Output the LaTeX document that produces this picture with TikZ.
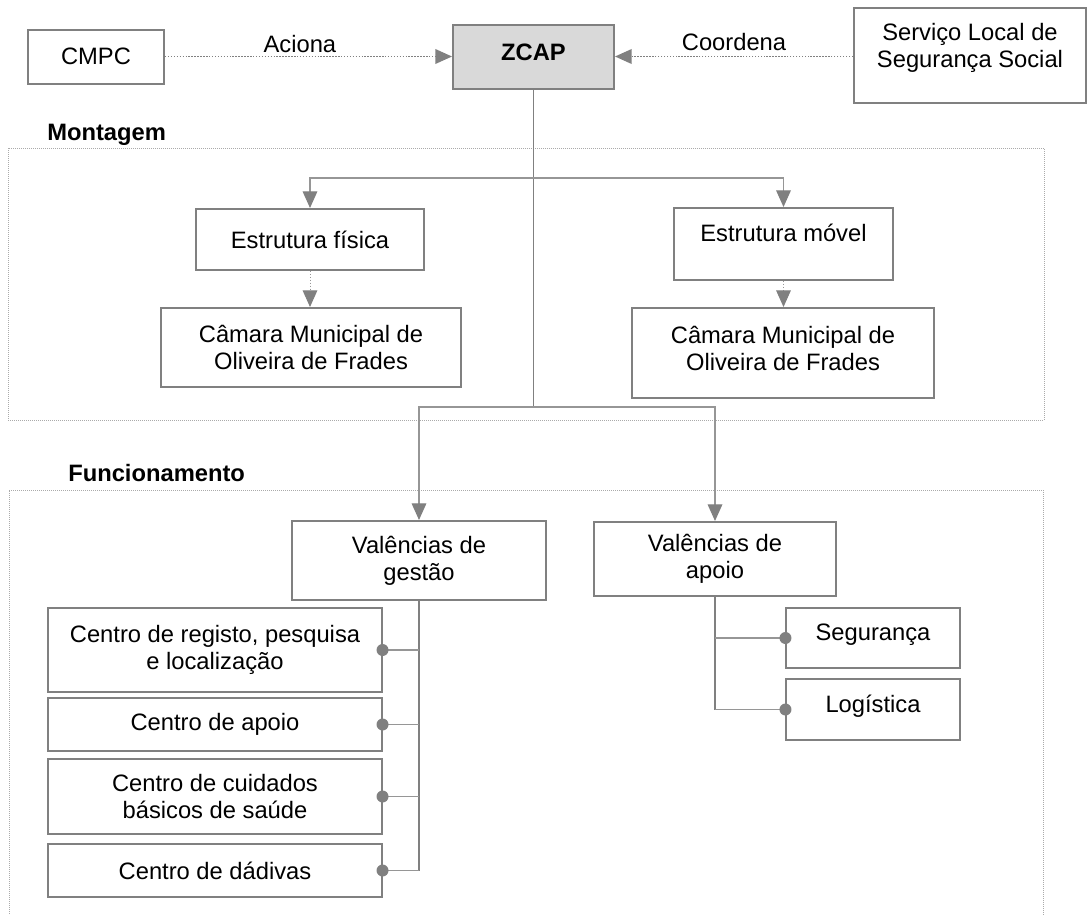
\documentclass[tikz,border=0pt]{standalone}
\usepackage{fontspec}
\setmainfont{Liberation Sans}
\usepackage{tikz}
\usetikzlibrary{arrows.meta}

\definecolor{linegray}{RGB}{128,128,128}
\definecolor{lightline}{RGB}{150,150,150}
\definecolor{framegray}{RGB}{170,170,170}
\definecolor{zcapgray}{RGB}{217,217,217}
\newcommand{\boxfont}{\fontsize{17.8}{20.3}\selectfont}

\begin{document}
\begin{tikzpicture}[x=0.75pt,y=-0.75pt,
	every node/.style={font=\boxfont},
	box/.style={draw=linegray,line width=1.5pt,align=center,inner sep=0pt},
	thinbox/.style={box,line width=0.8pt},
	head/.style={font=\boxfont\bfseries,anchor=west,inner sep=0pt},
	link/.style={draw=linegray,line width=1.2pt},
	branch/.style={draw=lightline,line width=0.9pt},
	tip/.style={-{Triangle[length=12.5pt,width=11pt,color=linegray]}},
	dotarrow/.style={draw=linegray,line width=1.1pt,dash pattern=on 1.1pt off 1.1pt,tip},
	frame/.style={draw=framegray,line width=0.75pt,dash pattern=on 0.75pt off 0.75pt}]
	\useasboundingbox (0,0) rectangle (1088,914);
	% top row
	\node[box,minimum width=102pt,minimum height=40.5pt] (cmpc) at (96,56.5) {CMPC};
	\node[box,fill=zcapgray,minimum width=120.75pt,minimum height=48pt,font=\boxfont\bfseries,text depth=6pt] (zcap) at (533.5,56.5) {ZCAP};
	\node[box,minimum width=174pt,minimum height=71.25pt,text depth=14.5pt] (ssocial) at (970,55.5) {Serviço Local de\\Segurança Social};
	\draw[dotarrow] (cmpc.east) -- (zcap.west) node[pos=0.47,above,inner sep=2pt,solid] (aciona) {Aciona};
	\draw[dotarrow] (ssocial.west |- zcap.east) -- (zcap.east) node[midway,above,inner sep=4pt,solid] (coordena) {Coordena};
	% Montagem
	\node[head] (montagem) at (47,135) {Montagem};
	\draw[frame] (8,148) rectangle (1044,420);
	\node[box,minimum width=171pt,minimum height=45.75pt] (fisica) at (310,239.5) {Estrutura física};
	\node[box,minimum width=164.25pt,minimum height=54pt,text depth=16.5pt] (movel) at (783.5,244) {Estrutura móvel};
	\node[box,minimum width=225pt,minimum height=59.25pt] (camara1) at (311,347.5) {Câmara Municipal de\\Oliveira de Frades};
	\node[box,minimum width=226.5pt,minimum height=67.5pt,text depth=6.75pt] (camara2) at (783,353) {Câmara Municipal de\\Oliveira de Frades};
	\coordinate (split1) at (533.5,178);
	\coordinate (split2) at (533.5,407);
	\draw[link] (zcap.south) -- (split2);
	\draw[branch,tip] (split1) -| (fisica.north);
	\draw[branch,tip] (split1) -| (movel.north);
	\draw[dotarrow,draw=lightline,line width=0.75pt] (fisica.south) -- (fisica.south |- camara1.north);
	\draw[dotarrow,draw=lightline,line width=0.75pt] (movel.south) -- (movel.south |- camara2.north);
	% Funcionamento
	\node[head] (funcionamento) at (68,473) {Funcionamento};
	\draw[frame] (9,920) |- (1043,490) -- (1043,920);
	\node[box,minimum width=190.5pt,minimum height=59.25pt] (gestao) at (419,560.5) {Valências de\\gestão};
	\node[box,minimum width=181.5pt,minimum height=55.5pt] (apoio) at (715,559) {Valências de\\apoio};
	\draw[branch,tip] (split2) -| (gestao.north);
	\draw[branch,tip] (split2) -| (apoio.north);
	\node[thinbox,minimum width=250.5pt,minimum height=63pt] (registo) at (215,650) {Centro de registo, pesquisa\\e localização};
	\node[thinbox,minimum width=250.5pt,minimum height=39.75pt] (capoio) at (215,724.5) {Centro de apoio};
	\node[thinbox,minimum width=250.5pt,minimum height=56.25pt] (cuidados) at (215,796.5) {Centro de cuidados\\básicos de saúde};
	\node[thinbox,minimum width=250.5pt,minimum height=39.75pt] (dadivas) at (215,870.5) {Centro de dádivas};
	\node[thinbox,minimum width=130.5pt,minimum height=45pt,text depth=9pt] (seguranca) at (873,638) {Segurança};
	\node[thinbox,minimum width=130.5pt,minimum height=45.75pt,text depth=9pt] (logistica) at (873,709.5) {Logística};
	\draw[link] (gestao.south) -- (gestao.south |- dadivas.east);
	\draw[branch] (gestao.south |- registo.east) -- (registo.east);
	\draw[branch] (gestao.south |- capoio.east) -- (capoio.east);
	\draw[branch] (gestao.south |- cuidados.east) -- (cuidados.east);
	\draw[branch] (gestao.south |- dadivas.east) -- (dadivas.east);
	\draw[link] (apoio.south) -- (apoio.south |- logistica.west);
	\draw[branch] (apoio.south |- seguranca.west) -- (seguranca.west);
	\draw[branch] (apoio.south |- logistica.west) -- (logistica.west);
	\fill[linegray] (registo.east) circle[radius=4.5pt];
	\fill[linegray] (capoio.east) circle[radius=4.5pt];
	\fill[linegray] (cuidados.east) circle[radius=4.5pt];
	\fill[linegray] (dadivas.east) circle[radius=4.5pt];
	\fill[linegray] (seguranca.west) circle[radius=4.5pt];
	\fill[linegray] (logistica.west) circle[radius=4.5pt];
\end{tikzpicture}
\end{document}
